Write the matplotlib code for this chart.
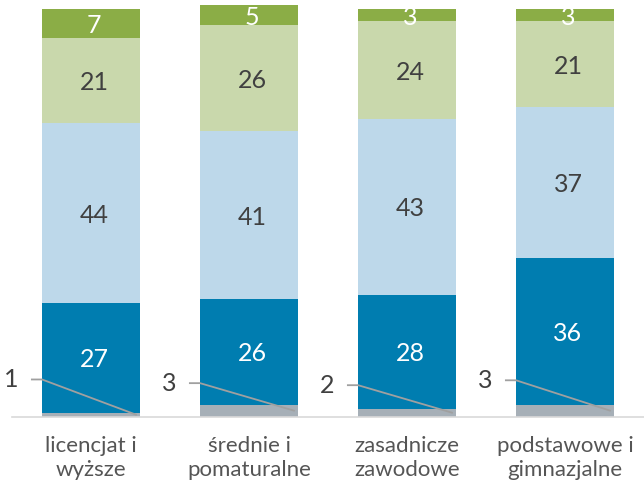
import matplotlib
matplotlib.use("Agg")
import matplotlib.pyplot as plt
from matplotlib import transforms
import numpy as np

categories = ["licencjat i\nwyższe", "średnie i\npomaturalne",
              "zasadnicze\nzawodowe", "podstawowe i\ngimnazjalne"]

# stacked shares, bottom to top
s_gray = [1, 3, 2, 3]
s_dark = [27, 26, 28, 36]
s_light = [44, 41, 43, 37]
s_pale = [21, 26, 24, 21]
s_green = [7, 5, 3, 3]

series = [s_gray, s_dark, s_light, s_pale, s_green]
colors = ["#A6AFB7", "#007DB0", "#BDD8EA", "#C9D8AC", "#8BAD46"]
text_colors = [None, "white", "#404040", "#404040", "white"]

plt.rcParams["font.family"] = ["Lato", "DejaVu Sans"]

fig = plt.figure(figsize=(6.44, 4.87), dpi=100)
ax = fig.add_axes([12 / 644, (487 - 417) / 487, 632 / 644, (417 - 5) / 487])

x = np.arange(len(categories))
width = 0.62
bottom = np.zeros(len(categories))
shift = transforms.offset_copy(ax.transData, fig=fig, x=3, y=-2, units="dots")

for vals, col, tcol in zip(series, colors, text_colors):
    vals = np.array(vals, dtype=float)
    ax.bar(x, vals, width, bottom=bottom, color=col, linewidth=0)
    if tcol is not None:
        for xi, b, v in zip(x, bottom, vals):
            ax.text(xi, b + v / 2, f"{int(v)}", ha="center", va="center",
                    color=tcol, fontsize=18, transform=shift)
    bottom += vals

# small bottom segments labelled outside with leader lines
label_heights = [9.2, 8.3, 7.8, 9.0]
for xi, v, ly in zip(x, s_gray, label_heights):
    left = xi - width / 2
    x_txt = left - 0.15
    ax.plot([left - 0.07, left, xi + width / 2 - 0.02],
            [ly, ly, v / 2],
            color="#A0A0A0", linewidth=1.3, solid_capstyle="butt")
    ax.text(x_txt, ly, f"{v}", ha="right", va="center",
            color="#404040", fontsize=18)

ax.set_xlim(-0.5, 3.5)
ax.set_ylim(0, 101)
ax.set_xticks(x)
ax.set_xticklabels(categories, fontsize=16, color="#555555", linespacing=1.2)
ax.tick_params(axis="x", length=0, pad=14)
ax.set_yticks([])
for side in ["top", "right", "left"]:
    ax.spines[side].set_visible(False)
ax.spines["bottom"].set_color("#D9D9D9")
ax.spines["bottom"].set_linewidth(1.2)

fig.savefig("out.png", dpi=100)
